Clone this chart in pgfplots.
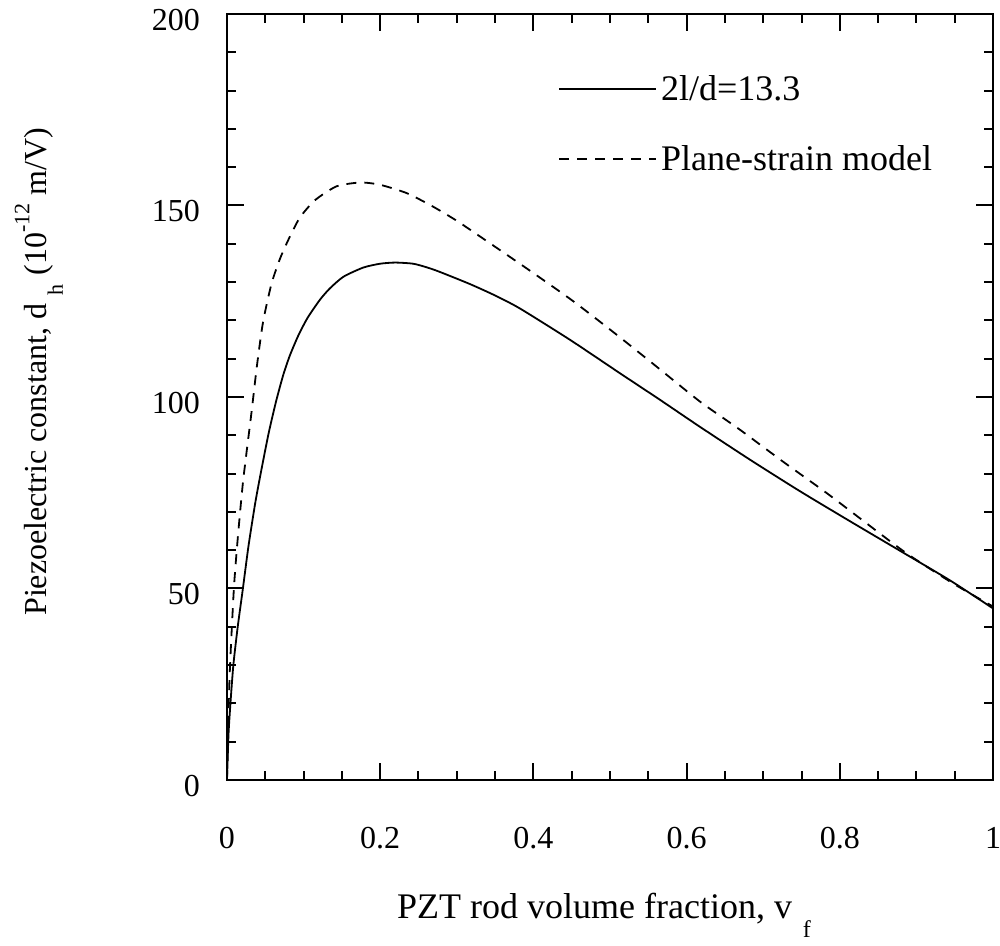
\documentclass[border=0pt]{standalone}
\usepackage{fontspec}
\setmainfont{Liberation Serif}
\usepackage{pgfplots}
\pgfplotsset{compat=1.18}

\pgfplotstableread{
x y
0 0
0.002 12
0.0045 20
0.0083 30
0.0140 40
0.0205 49.6
0.0280 61
0.0366 72
0.0430 79
0.0540 90.2
0.0640 98.8
0.0735 105.8
0.0820 110.8
0.0930 116.0
0.1050 120.6
0.1210 125.3
0.1340 128.3
0.1520 131.4
0.1780 133.8
0.2000 134.8
0.2200 135.1
0.2430 134.8
0.2600 133.9
0.2760 132.8
0.3170 129.5
0.3500 126.5
0.3825 123.1
0.4480 114.9
0.5130 106.2
0.5650 99.3
0.6175 92.2
0.6830 83.6
0.7480 75.4
0.8130 67.6
0.8790 59.8
0.9440 52.1
1.0000 44.8
}\solid

\pgfplotstableread{
x y
0 0
0.0015 15
0.0040 30
0.0090 50
0.0140 63
0.0210 78
0.0320 96
0.0390 108
0.0470 119.5
0.0580 129.5
0.0690 136
0.0800 141
0.0950 146.8
0.1150 151.4
0.1430 155.0
0.1740 156.0
0.2000 155.4
0.2350 153.2
0.2690 149.7
0.3000 146.0
0.3370 141.0
0.3910 133.6
0.4500 125.3
0.5065 116.6
0.5610 107.9
0.6175 98.8
0.6700 91.4
0.7260 83.1
0.7830 74.9
0.8350 67.0
0.8870 59.2
0.9480 51.3
1.0000 45.3
}\dashed

\begin{document}
\begin{tikzpicture}
\begin{axis}[
  scale only axis, width=383pt, height=383pt,
  xmin=0, xmax=1, ymin=0, ymax=200,
  xtick={0,0.2,0.4,0.6,0.8,1},
  xticklabels={0,0.2,0.4,0.6,0.8,1},
  ytick={0,50,100,150,200},
  yticklabels={0,50,100,150,200},
  minor x tick num=3, minor y tick num=4,
  major tick length=8.5pt, minor tick length=4.5pt,
  tick style={line width=1pt, black},
  axis line style={line width=1.2pt},
  tick label style={font=\fontsize{16}{19}\selectfont},
  xticklabel style={yshift=-20pt},
  yticklabel style={xshift=-10pt, yshift=-3pt},
  xlabel={PZT rod volume fraction, v\hspace{0.3em}\raisebox{-0.55em}{\fontsize{12}{14}\selectfont f}},
  ylabel={Piezoelectric constant, d\hspace{0.25em}\raisebox{-0.5em}{\fontsize{11}{13}\selectfont h}\hspace{0.3em}(10\raisebox{0.55em}{\fontsize{11}{13}\selectfont -12}\hspace{0.25em}m/V)},
  xlabel style={font=\fontsize{18}{22}\selectfont, at={(axis description cs:0.5,0)}, anchor=base, yshift=-69pt, xshift=-3pt},
  ylabel style={font=\fontsize{16}{19}\selectfont, at={(axis description cs:-0.235,0.533)}, anchor=base},
  legend style={draw=none, fill=none, at={(rel axis cs:0.432,0.926)}, anchor=north west,
    inner sep=0pt, row sep=17pt, font=\fontsize{18}{22}\selectfont},
  legend cell align=left,
  legend image code/.code={\draw[#1] (0pt,0pt) -- (45pt,0pt); \path (0pt,0pt) -- (48.5pt,0pt);},
  clip=false,
]
\addplot[black, line width=0.9pt, smooth, tension=0.4] table[x=x,y=y] {\solid};
\addlegendentry{2l/d=13.3}
\addplot[black, line width=0.9pt, dash pattern=on 5pt off 4pt, smooth, tension=0.4] table[x=x,y=y] {\dashed};
\addlegendentry{Plane-strain model}
\end{axis}
\pgfresetboundingbox
\path ([xshift=-113.5pt,yshift=-83pt]current axis.south west) rectangle ([xshift=3.5pt,yshift=7pt]current axis.north east);
\end{tikzpicture}
\end{document}
